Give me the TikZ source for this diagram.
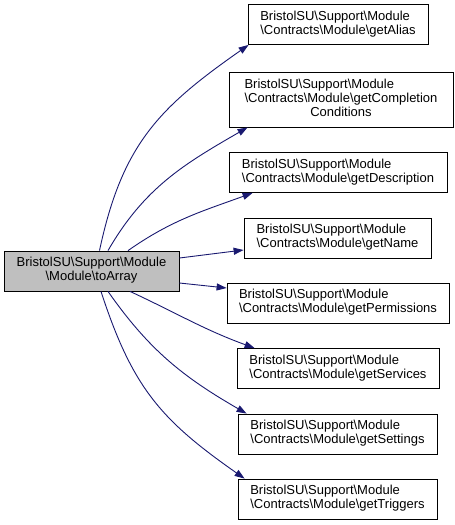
\documentclass[tikz,border=0pt]{standalone}
\usepackage{fontspec}
\setmainfont{Liberation Sans}
\usetikzlibrary{arrows.meta, positioning}
\definecolor{edgeblue}{HTML}{191970}
\definecolor{nodegray}{HTML}{BFBFBF}
\newcommand{\bsl}{\textbackslash}
\newcommand{\lline}[1]{\multicolumn{1}{@{}l@{}}{#1}}

\begin{document}
\begin{tikzpicture}[
  x=1pt, y=1pt,
  >={Triangle[length=10pt, width=7pt]},
  fn/.style={draw=black, line width=0.8pt, inner sep=0pt, minimum height=40pt,
    font=\fontsize{13}{14}\selectfont},
  call/.style={->, draw=edgeblue, fill=none, line width=0.9pt}
  ]
  \useasboundingbox (0,0) rectangle (455,-525);

  % caller
  \node[fn, fill=nodegray, minimum width=175pt] (toarray) at (91.5,-271)
    {\begin{tabular}{@{}c@{}}\lline{BristolSU\bsl Support\bsl Module}\\\bsl Module\bsl toArray\end{tabular}};

  % callees
  \node[fn, minimum width=180pt] (alias) at (338,-24.5)
    {\begin{tabular}{@{}c@{}}\lline{BristolSU\bsl Support\bsl Module}\\\bsl Contracts\bsl Module\bsl getAlias\end{tabular}};
  \node[fn, minimum width=224pt, minimum height=55pt] (compl) at (341,-99.5)
    {\begin{tabular}{@{}c@{}}\lline{BristolSU\bsl Support\bsl Module}\\\lline{\bsl Contracts\bsl Module\bsl getCompletion}\\Conditions\end{tabular}};
  \node[fn, minimum width=218pt] (descr) at (338,-172.5)
    {\begin{tabular}{@{}c@{}}\lline{BristolSU\bsl Support\bsl Module}\\\bsl Contracts\bsl Module\bsl getDescription\end{tabular}};
  \node[fn, minimum width=187pt] (name) at (337.5,-238)
    {\begin{tabular}{@{}c@{}}\lline{BristolSU\bsl Support\bsl Module}\\\bsl Contracts\bsl Module\bsl getName\end{tabular}};
  \node[fn, minimum width=222pt] (perms) at (338,-303)
    {\begin{tabular}{@{}c@{}}\lline{BristolSU\bsl Support\bsl Module}\\\bsl Contracts\bsl Module\bsl getPermissions\end{tabular}};
  \node[fn, minimum width=202pt] (servs) at (338,-368.5)
    {\begin{tabular}{@{}c@{}}\lline{BristolSU\bsl Support\bsl Module}\\\bsl Contracts\bsl Module\bsl getServices\end{tabular}};
  \node[fn, minimum width=199pt] (setts) at (337.5,-434)
    {\begin{tabular}{@{}c@{}}\lline{BristolSU\bsl Support\bsl Module}\\\bsl Contracts\bsl Module\bsl getSettings\end{tabular}};
  \node[fn, minimum width=199pt] (trigs) at (337.5,-499)
    {\begin{tabular}{@{}c@{}}\lline{BristolSU\bsl Support\bsl Module}\\\bsl Contracts\bsl Module\bsl getTriggers\end{tabular}};

  % calls
  \draw[call] ([xshift=8pt]toarray.north) to[out=78, in=215, looseness=1.1] ([xshift=1pt]alias.south west);
  \draw[call] ([xshift=16.5pt]toarray.north) to[out=60, in=210] ([xshift=19pt]compl.south west);
  \draw[call] ([xshift=36.5pt]toarray.north) to[out=35, in=200] ([xshift=24pt]descr.south west);
  \draw[call] ([yshift=13pt]toarray.east) -- ([yshift=-12pt]name.west);
  \draw[call] ([yshift=-12pt]toarray.east) -- ([yshift=15pt]perms.west);
  \draw[call] ([xshift=38.5pt]toarray.south) to[out=-25, in=160] ([xshift=18pt]servs.north west);
  \draw[call] ([xshift=16.5pt]toarray.south) to[out=-55, in=150] ([xshift=9pt]setts.north west);
  \draw[call] ([xshift=9.5pt]toarray.south) to[out=-72, in=145, looseness=1.1] ([xshift=7pt]trigs.north west);
\end{tikzpicture}
\end{document}
